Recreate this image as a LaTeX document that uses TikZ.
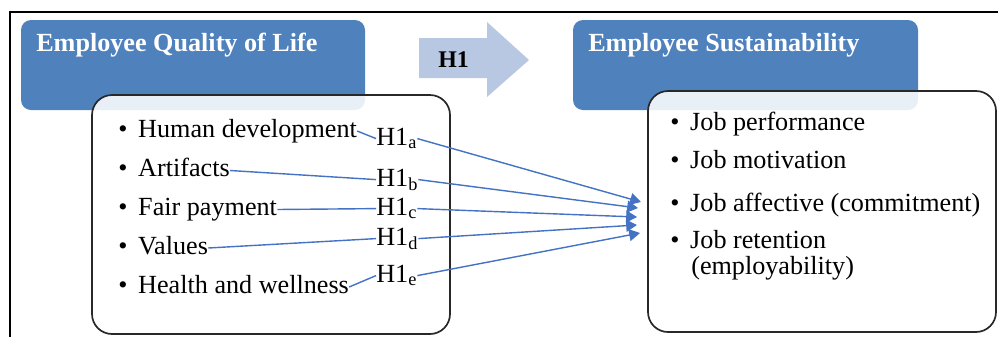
\documentclass[tikz,border=0pt]{standalone}
\usepackage{fontspec}
\setmainfont{Liberation Serif}
\usetikzlibrary{arrows.meta}
\definecolor{boxblue}{RGB}{79,129,189}
\definecolor{arrblue}{RGB}{185,200,226}
\definecolor{lnblue}{RGB}{68,114,196}
\definecolor{edge}{RGB}{40,40,40}

\begin{document}
\begin{tikzpicture}[x=0.025cm,y=-0.025cm,>={Triangle[length=0.27cm,width=0.3cm]},
 every node/.style={inner sep=0pt,font=\fontsize{18.6}{22}\selectfont},
 title/.style={anchor=base west,text=white,font=\fontsize{18.6}{22}\selectfont\bfseries},
 item/.style={anchor=base west,text height=0.445cm,text depth=0.145cm},
 hyp/.style={anchor=base west,text height=0.42cm,text depth=0.1cm},
 link/.style={lnblue,line width=1pt}]
 \useasboundingbox (0,0) rectangle (998,337);
 \draw[line width=1.2pt] (10,337)--(10,12)--(998,12);
 \fill[boxblue,rounded corners=0.25cm] (21,20) rectangle (365,110);
 \fill[boxblue,rounded corners=0.25cm] (573,20) rectangle (918,110);
 \fill[arrblue] (419,38)--(487,38)--(487,22)--(529,60)--(487,97)--(487,78)--(419,78)--cycle;
 \draw[edge,line width=1.2pt,fill=white,fill opacity=0.88,rounded corners=0.5cm] (92,95) rectangle (450,334);
 \draw[edge,line width=1.2pt,fill=white,fill opacity=0.88,rounded corners=0.5cm] (648,91) rectangle (996,332);
 \node[title] (eql) at (36,51) {Employee Quality of Life};
 \node[title] (es) at (588,51) {Employee Sustainability};
 \node[anchor=base west,font=\fontsize{17}{20}\selectfont\bfseries] (h1) at (438,67) {H1};
 \node[item] (hd) at (118,137) {\textbullet\hspace{0.27cm}Human development};
 \node[item] (art) at (118,176.5) {\textbullet\hspace{0.27cm}Artifacts};
 \node[item] (fp) at (118,215.5) {\textbullet\hspace{0.27cm}Fair payment};
 \node[item] (val) at (118,254) {\textbullet\hspace{0.27cm}Values};
 \node[item] (hw) at (118,293) {\textbullet\hspace{0.27cm}Health and wellness};
 \node[hyp] (h1a) at (376,145) {H1\textsubscript{a}};
 \node[hyp] (h1b) at (376,186) {H1\textsubscript{b}};
 \node[hyp] (h1c) at (376,215) {H1\textsubscript{c}};
 \node[hyp] (h1d) at (376,245) {H1\textsubscript{d}};
 \node[hyp] (h1e) at (376,282) {H1\textsubscript{e}};
 \node[item] (jp) at (670,130) {\textbullet\hspace{0.27cm}Job performance};
 \node[item] (jm) at (670,168) {\textbullet\hspace{0.27cm}Job motivation};
 \node[item] (ja) at (670,211) {\textbullet\hspace{0.27cm}Job affective (commitment)};
 \node[item] (jr) at (670,248) {\textbullet\hspace{0.27cm}Job retention};
 \node[anchor=base west] (je) at (691,274) {(employability)};
 \coordinate (t1) at (641,202);
 \coordinate (t2) at (638,208);
 \coordinate (t3) at (637,217);
 \coordinate (t4) at (637,225);
 \coordinate (t5) at (640,233);
 \draw[link] (hd.east)--(h1a.west);
 \draw[link] (art.east)--(h1b.west);
 \draw[link] (fp.east)--(h1c.west);
 \draw[link] (val.east)--(h1d.west);
 \draw[link] (hw.east)--(h1e.west);
 \draw[link,->] (h1a.east)--(t1);
 \draw[link,->] (h1b.east)--(t2);
 \draw[link,->] (h1c.east)--(t3);
 \draw[link,->] (h1d.east)--(t4);
 \draw[link,->] (h1e.east)--(t5);
\end{tikzpicture}
\end{document}
